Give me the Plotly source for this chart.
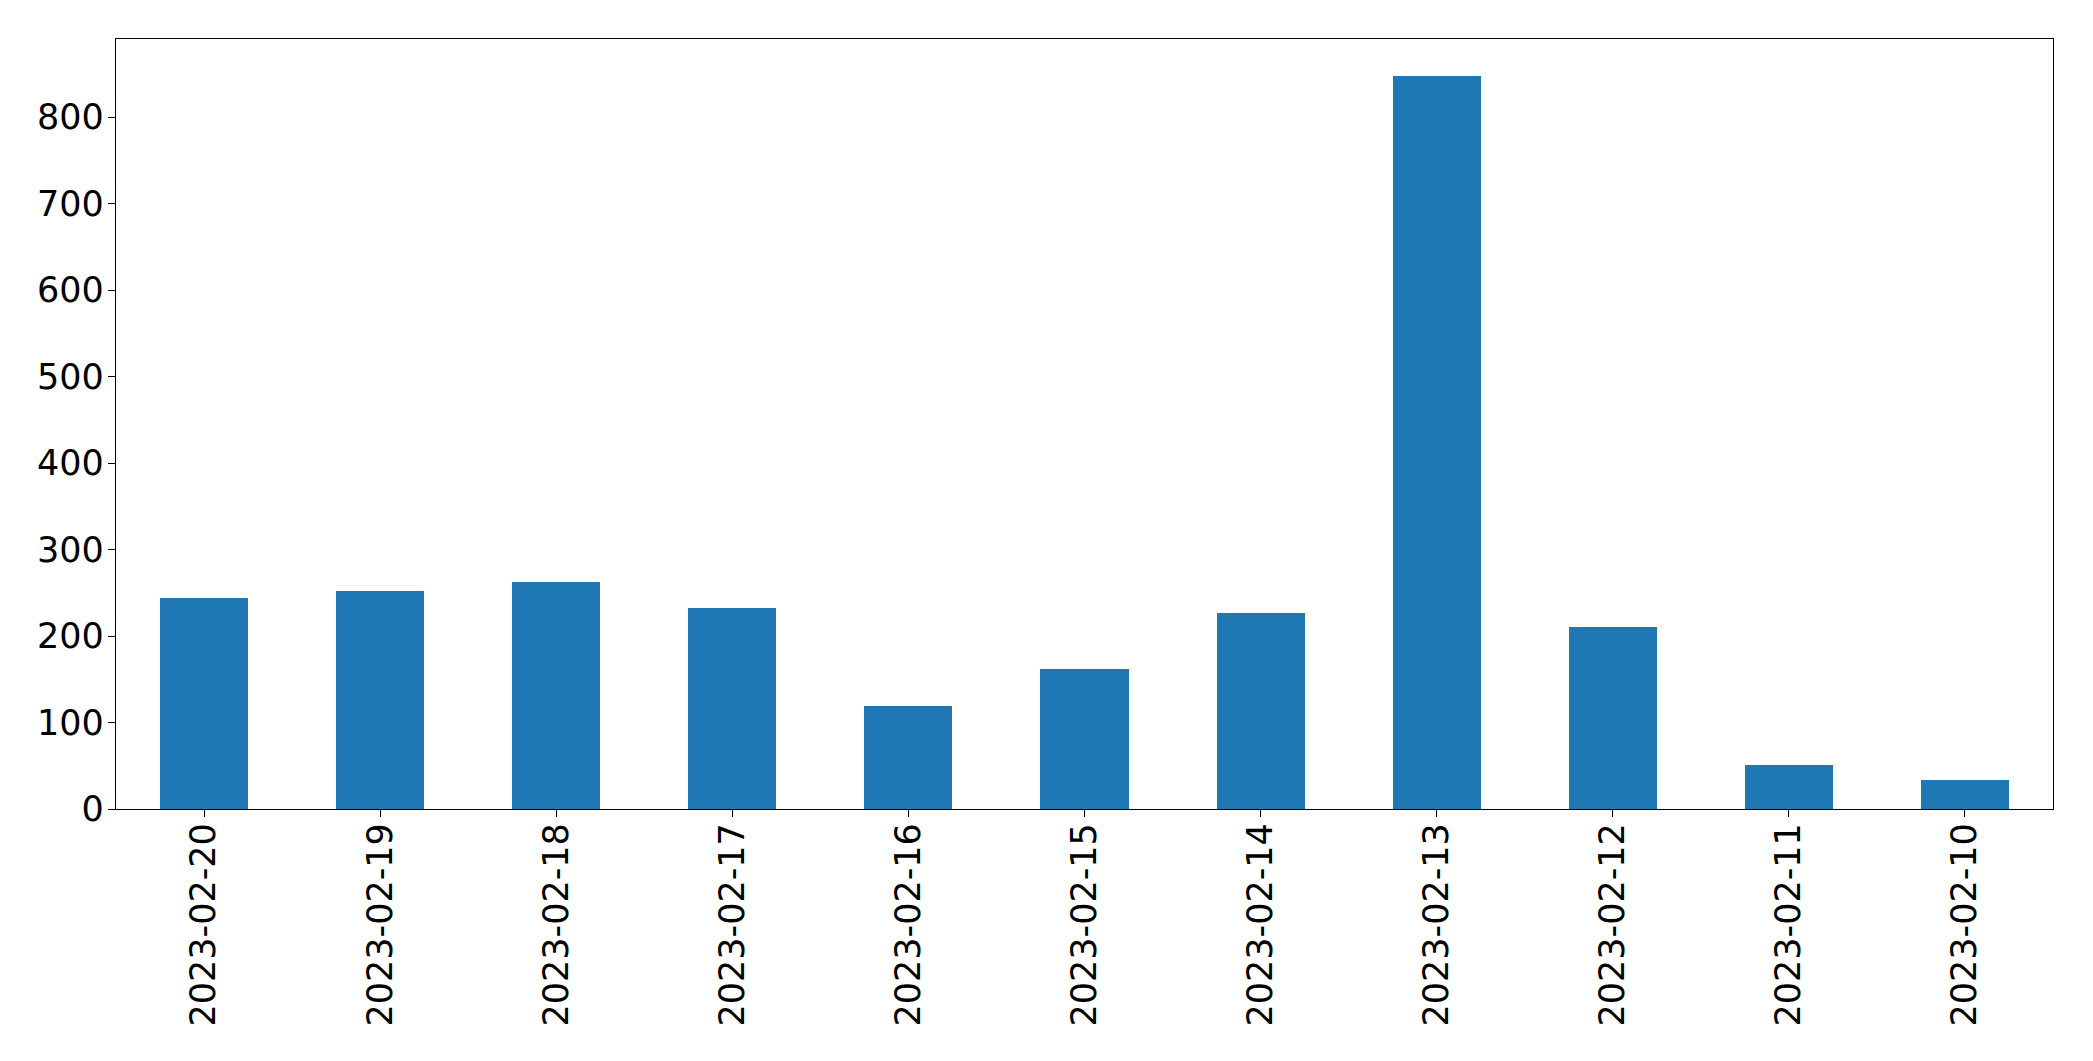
import plotly.graph_objects as go

dates = ["2023-02-20", "2023-02-19", "2023-02-18", "2023-02-17", "2023-02-16",
         "2023-02-15", "2023-02-14", "2023-02-13", "2023-02-12", "2023-02-11", "2023-02-10"]
counts = [244, 252, 262, 233, 119, 162, 227, 848, 210, 51, 33]
y_ticks = [0, 100, 200, 300, 400, 500, 600, 700, 800]

fig = go.Figure()
fig.add_trace(go.Bar(
    x=list(range(len(dates))), y=counts, width=0.5,
    marker=dict(color="#1f77b4", line=dict(width=0)),
))

font = dict(family="DejaVu Sans", size=35, color="black")
fig.update_layout(
    width=2093, height=1061,
    margin=dict(l=116, r=40, t=39, b=252),
    paper_bgcolor="white", plot_bgcolor="white",
    showlegend=False,
    bargap=0,
)
fig.update_xaxes(
    range=[-0.5, len(dates) - 0.5],
    tickmode="array", tickvals=list(range(len(dates))), ticktext=dates,
    tickangle=-90, tickfont=font, ticklabelstandoff=-8,
    showline=True, mirror=True, linecolor="black", linewidth=1.3,
    ticks="outside", ticklen=7, tickwidth=1.3, tickcolor="black",
    showgrid=False, zeroline=False,
)
fig.update_yaxes(
    range=[0, 848 * 1.05],
    tickmode="array", tickvals=y_ticks,
    tickfont=font, ticklabelstandoff=-3,
    showline=True, mirror=True, linecolor="black", linewidth=1.3,
    ticks="outside", ticklen=7, tickwidth=1.3, tickcolor="black",
    showgrid=False, zeroline=False,
)

fig.write_html("out.html")
